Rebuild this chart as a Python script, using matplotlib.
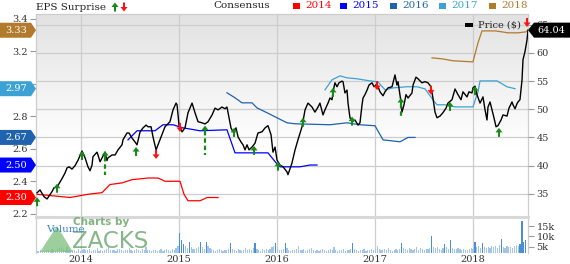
import numpy as np
import matplotlib
matplotlib.use("Agg")
import matplotlib.pyplot as plt
from matplotlib.colors import LinearSegmentedColormap
from matplotlib.patches import Polygon, Rectangle

# ---- data (dates as decimal years) ----
price_dates = [
    2013.557, 2013.587, 2013.628, 2013.659, 2013.709, 2013.730, 2013.760, 2013.811, 2013.842, 2013.862,
    2013.883, 2013.913, 2013.944, 2013.975, 2014.015, 2014.046, 2014.076, 2014.097, 2014.117, 2014.127,
    2014.168, 2014.178, 2014.199, 2014.229, 2014.250, 2014.270, 2014.280, 2014.321, 2014.352, 2014.382,
    2014.423, 2014.433, 2014.474, 2014.494, 2014.525, 2014.556, 2014.576, 2014.607, 2014.637, 2014.668,
    2014.688, 2014.719, 2014.739, 2014.770, 2014.810, 2014.861, 2014.912, 2014.943, 2014.974, 2014.984,
    2015.004, 2015.035, 2015.065, 2015.096, 2015.137, 2015.167, 2015.198, 2015.239, 2015.269, 2015.300,
    2015.341, 2015.371, 2015.402, 2015.442, 2015.473, 2015.493, 2015.514, 2015.534, 2015.555, 2015.585,
    2015.606, 2015.636, 2015.657, 2015.677, 2015.697, 2015.718, 2015.748, 2015.779, 2015.809, 2015.850,
    2015.881, 2015.911, 2015.942, 2015.962, 2015.983, 2016.003, 2016.034, 2016.064, 2016.105, 2016.115,
    2016.156, 2016.187, 2016.217, 2016.258, 2016.289, 2016.319, 2016.360, 2016.390, 2016.421, 2016.441,
    2016.472, 2016.492, 2016.523, 2016.543, 2016.564, 2016.574, 2016.594, 2016.615, 2016.635, 2016.666,
    2016.676, 2016.696, 2016.717, 2016.727, 2016.747, 2016.768, 2016.798, 2016.829, 2016.849, 2016.870,
    2016.880, 2016.900, 2016.921, 2016.941, 2016.972, 2016.992, 2017.023, 2017.053, 2017.084, 2017.104,
    2017.135, 2017.176, 2017.206, 2017.226, 2017.237, 2017.267, 2017.277, 2017.298, 2017.318, 2017.339,
    2017.379, 2017.390, 2017.420, 2017.441, 2017.481, 2017.512, 2017.542, 2017.573, 2017.593, 2017.614,
    2017.634, 2017.665, 2017.695, 2017.726, 2017.746, 2017.787, 2017.818, 2017.848, 2017.879, 2017.899,
    2017.940, 2017.960, 2017.991, 2018.001, 2018.022, 2018.042, 2018.073, 2018.103, 2018.124, 2018.144,
    2018.154, 2018.175, 2018.195, 2018.215, 2018.236, 2018.256, 2018.287, 2018.307, 2018.348, 2018.368,
    2018.399, 2018.409, 2018.430, 2018.450, 2018.460, 2018.480, 2018.501, 2018.511, 2018.531, 2018.552,
    2018.562]
price_vals = [
    35.2, 35.7, 34.5, 34.1, 35.4, 36.1, 36.2, 37.7, 38.7, 39.6,
    39.8, 39.4, 40.0, 41.0, 42.6, 41.4, 39.8, 39.1, 40.1, 41.6,
    42.4, 41.9, 40.7, 41.7, 42.4, 40.9, 41.4, 41.9, 41.9, 42.8,
    43.7, 44.6, 45.8, 45.8, 44.9, 44.2, 43.7, 46.0, 46.7, 47.2,
    46.9, 46.9, 45.1, 42.8, 44.6, 46.9, 47.8, 49.9, 51.1, 50.8,
    47.2, 46.0, 46.7, 49.4, 51.1, 49.4, 47.8, 47.6, 47.4, 47.8,
    49.0, 50.2, 49.9, 50.4, 50.1, 50.4, 48.5, 46.7, 46.0, 46.7,
    45.1, 44.2, 43.7, 42.8, 43.7, 42.8, 43.3, 44.0, 45.8, 46.0,
    46.7, 47.1, 45.5, 42.4, 43.3, 41.0, 40.1, 39.8, 38.9, 38.4,
    40.5, 42.8, 44.6, 46.9, 49.9, 51.1, 50.4, 49.5, 50.4, 51.1,
    49.0, 49.9, 51.1, 52.0, 51.7, 53.1, 54.7, 54.0, 54.7, 55.0,
    54.9, 52.9, 53.4, 51.1, 48.5, 47.8, 48.1, 47.2, 47.6, 50.8,
    52.0, 52.6, 53.4, 54.3, 54.7, 54.0, 54.5, 53.1, 52.4, 53.1,
    53.8, 54.0, 56.1, 54.3, 54.9, 51.3, 49.5, 50.8, 52.6, 52.0,
    52.9, 54.3, 55.7, 55.4, 54.7, 54.9, 54.7, 54.0, 52.0, 49.5,
    48.5, 48.8, 49.4, 50.2, 51.1, 51.7, 53.6, 52.6, 51.7, 53.1,
    52.2, 53.1, 52.9, 53.8, 54.1, 52.6, 51.1, 52.2, 49.9, 48.1,
    50.4, 51.3, 49.9, 48.5, 46.9, 47.1, 48.1, 49.0, 48.8, 50.2,
    51.3, 50.8, 50.1, 51.0, 51.3, 51.7, 55.2, 58.8, 60.2, 62.3,
    64.04]

# consensus EPS estimates per fiscal year
cons_2014_dates = [2013.557, 2013.893, 2014.076, 2014.219, 2014.301, 2014.423, 2014.525, 2014.688,
                   2014.790, 2014.861, 2015.014, 2015.055, 2015.096, 2015.218, 2015.290, 2015.402]
cons_2014 = [2.32, 2.30, 2.32, 2.33, 2.38, 2.39, 2.41, 2.42,
             2.42, 2.40, 2.40, 2.32, 2.28, 2.28, 2.30, 2.30]
cons_2015_dates = [2014.484, 2014.576, 2014.759, 2014.841, 2014.943, 2015.045, 2015.218, 2015.493,
                   2015.575, 2015.911, 2015.993, 2016.034, 2016.238, 2016.340, 2016.411]
cons_2015 = [2.655, 2.711, 2.711, 2.748, 2.748, 2.729, 2.711, 2.717,
             2.575, 2.575, 2.514, 2.489, 2.489, 2.50, 2.50]
cons_2016_dates = [2015.493, 2015.575, 2015.646, 2015.748, 2015.799, 2015.901, 2016.003, 2016.105,
                   2016.187, 2016.543, 2016.717, 2016.849, 2017.002, 2017.084, 2017.257, 2017.339,
                   2017.410]
cons_2016 = [2.945, 2.914, 2.883, 2.883, 2.852, 2.822, 2.791, 2.760,
             2.754, 2.748, 2.760, 2.748, 2.742, 2.655, 2.643, 2.67, 2.67]
cons_2017_dates = [2016.492, 2016.564, 2016.645, 2016.717, 2016.819, 2016.951, 2017.033, 2017.104,
                   2017.186, 2017.328, 2017.430, 2017.512, 2017.593, 2017.634, 2017.716, 2017.818,
                   2018.001, 2018.052, 2018.073, 2018.246, 2018.348, 2018.430]
cons_2017 = [2.963, 3.025, 3.049, 3.037, 3.031, 3.018, 3.012, 2.963,
             2.975, 2.982, 2.982, 2.969, 2.902, 2.871, 2.871, 2.858,
             2.858, 2.951, 3.018, 3.018, 2.982, 2.97]
cons_2018_dates = [2017.583, 2017.685, 2017.797, 2018.001, 2018.052, 2018.093, 2018.226, 2018.297,
                   2018.358, 2018.460, 2018.542, 2018.562]
cons_2018 = [3.160, 3.154, 3.142, 3.135, 3.252, 3.326, 3.326, 3.320,
             3.314, 3.314, 3.320, 3.33]

# EPS surprise arrows
surprise_dates = [2013.557, 2013.760, 2014.015, 2014.250, 2014.566, 2014.770, 2015.014, 2015.269,
                  2015.565, 2015.769, 2016.013, 2016.268, 2016.574, 2016.768, 2017.023, 2017.267,
                  2017.573, 2017.767, 2018.022, 2018.266, 2018.552]
surprise_price = [34.4, 36.8, 42.6, 42.6, 43.3, 41.2, 46.0, 47.1,
                  46.7, 43.5, 40.7, 48.5, 53.8, 48.7, 53.4, 52.0,
                  52.6, 51.3, 54.1, 46.7, 64.6]
surprise_dir = ["up", "up", "up", "up", "up", "down", "down", "up",
                "up", "up", "up", "up", "up", "up", "down", "up",
                "down", "up", "up", "up", "down"]
surprise_tail = [None, None, None, 38.4, None, None, None, 41.9,
                 None, None, None, None, None, None, None, 48.7,
                 None, None, None, None, None]

# weekly volume, thousands
volume_k = [
    3.2, 3.0, 3.4, 2.9, 3.1, 3.6, 3.3, 3.0, 3.8, 3.5, 3.2, 3.9, 4.6, 5.0, 4.2, 3.6, 4.8, 3.4, 3.1, 3.3,
    3.5, 3.0, 3.8, 3.2, 3.6, 4.1, 3.4, 3.3, 3.9, 3.1, 3.7, 3.5, 4.4, 3.2, 3.6, 3.0, 3.4, 3.9, 5.2, 3.5,
    3.3, 3.6, 3.1, 3.8, 4.0, 3.4, 3.2, 3.7, 3.5, 4.3, 3.3, 3.1, 3.6, 3.9, 3.4, 3.2, 3.8, 3.5, 4.8, 3.6,
    3.4, 3.1, 3.7, 3.3, 3.0, 3.5, 3.9, 3.2, 3.6, 4.2, 3.4, 3.1, 3.8, 3.5, 4.5, 5.6, 11.7, 8.3, 6.5, 5.4,
    4.6, 7.4, 5.0, 4.2, 3.8, 4.5, 5.2, 7.4, 4.8, 4.1, 7.4, 5.6, 4.3, 3.9, 3.5, 3.2, 3.6, 4.0, 3.4, 3.1,
    3.7, 3.3, 4.2, 6.9, 4.1, 3.5, 3.2, 3.8, 3.4, 3.0, 3.6, 4.4, 3.3, 3.9, 3.5, 4.6, 6.9, 4.0, 3.6, 3.2,
    3.8, 3.4, 4.1, 3.5, 3.9, 4.8, 5.3, 6.9, 4.2, 3.6, 3.3, 4.0, 6.9, 4.4, 3.5, 3.2, 3.7, 3.4, 3.9, 5.5,
    3.6, 3.3, 3.8, 3.1, 3.5, 3.9, 4.3, 3.4, 3.0, 3.6, 3.2, 3.7, 4.1, 3.3, 3.0, 3.5, 3.8, 3.4, 5.0, 3.6,
    3.2, 3.7, 3.4, 3.9, 3.1, 3.6, 3.3, 4.2, 6.9, 3.8, 3.4, 3.0, 3.7, 3.5, 4.0, 3.2, 3.6, 3.3, 3.9, 3.5,
    3.8, 5.5, 4.1, 3.6, 3.3, 3.9, 3.4, 4.4, 3.7, 3.2, 3.6, 4.0, 3.5, 3.9, 6.9, 4.3, 3.8, 3.4, 4.6, 3.9,
    3.6, 4.2, 5.0, 3.7, 4.4, 3.9, 3.5, 4.1, 3.8, 4.6, 10.2, 4.8, 4.3, 5.2, 4.0, 3.7, 4.5, 6.4, 4.9, 4.1,
    8.3, 4.6, 4.2, 3.8, 4.4, 3.9, 3.6, 4.1, 3.7, 3.5, 3.9, 4.3, 4.0, 7.4, 4.8, 5.6, 4.5, 6.9, 5.2, 4.7,
    5.0, 4.4, 5.6, 4.8, 5.3, 4.6, 5.8, 8.8, 5.1, 4.7, 5.4, 4.9, 5.2, 4.6, 5.5, 6.0, 5.3, 6.2, 17.4, 7.4,
    8.3]
volume_start = 2013.556

years = [2014, 2015, 2016, 2017, 2018]
series = [
    ("2014", cons_2014_dates, cons_2014, "#ff0000"),
    ("2015", cons_2015_dates, cons_2015, "#0000ff"),
    ("2016", cons_2016_dates, cons_2016, "#1f62ad"),
    ("2017", cons_2017_dates, cons_2017, "#3ca2d3"),
    ("2018", cons_2018_dates, cons_2018, "#b27a2c"),
]

plt.rcParams["font.family"] = ["DejaVu Serif"]
W, H = 570, 264
GREEN = "#168a16"
RED = "#ff1010"
GRID = "#cdcdcd"


def fx(px):
    return px / W


def fy(py):
    return 1 - py / H


fig = plt.figure(figsize=(W / 100, H / 100), dpi=100)
L, R, T, B1, B2 = 36, 528, 14, 217, 253
ax_eps = fig.add_axes([fx(L), fy(B1), (R - L) / W, (B1 - T) / H])
ax_vol = fig.add_axes([fx(L), fy(B2), (R - L) / W, (B2 - B1) / H], sharex=ax_eps)
ax_price = ax_eps.twinx()

xlim = (2013.546, 2018.562)
eps_lim = (2.18, 3.43)
price_lim = (30.9, 66.9)

# background gradient
frac = np.linspace(1, 0, 256).reshape(-1, 1)
shade = np.clip((frac - 0.35) / 0.65, 0, 1)
cmap = LinearSegmentedColormap.from_list("bg", ["#ffffff", "#e2e2e2"])
ax_eps.imshow(shade, extent=(0, 1, 0, 1), transform=ax_eps.transAxes, cmap=cmap,
              vmin=0, vmax=1, aspect="auto", zorder=0, interpolation="bilinear")

# grid
price_ticks = [35, 40, 45, 50, 55, 60, 65]
for p in price_ticks:
    e = eps_lim[0] + (p - price_lim[0]) / (price_lim[1] - price_lim[0]) * (eps_lim[1] - eps_lim[0])
    ax_eps.axhline(e, color=GRID, lw=0.9, zorder=1)
for yr in years:
    ax_eps.axvline(yr, color=GRID, lw=0.9, zorder=1)
    ax_vol.axvline(yr, color=GRID, lw=0.9, zorder=0)

# consensus lines
for name, d, v, c in series:
    ax_eps.plot(d, v, color=c, lw=0.9, zorder=3)

ax_eps.set_xlim(*xlim)
ax_eps.set_ylim(*eps_lim)
eps_ticks = [2.2, 2.4, 2.6, 2.8, 3.0, 3.2, 3.4]
ax_eps.set_yticks(eps_ticks)
# 3.0 sits under the 2.97 tag in the original, so leave it blank
ax_eps.set_yticklabels(["" if t == 3.0 else f"{t:.1f}" for t in eps_ticks])
ax_eps.tick_params(axis="y", labelsize=7, colors="#333333", length=4, pad=2, width=0.8)
ax_eps.tick_params(axis="y", color="#999999")
ax_eps.tick_params(axis="x", length=0, labelbottom=False)
for s in ax_eps.spines.values():
    s.set_color(GRID)
    s.set_linewidth(0.9)

# price line
ax_price.plot(price_dates, price_vals, color="black", lw=1.0, zorder=4)
ax_price.set_ylim(*price_lim)
ax_price.set_yticks(price_ticks)
ax_price.tick_params(axis="y", labelsize=7, colors="#333333", length=4, pad=2, width=0.8)
ax_price.tick_params(axis="y", color="#999999")
for s in ax_price.spines.values():
    s.set_visible(False)

# dashed tails of surprise arrows
for d, p, t in zip(surprise_dates, surprise_price, surprise_tail):
    if t is not None:
        ax_price.plot([d, d], [p - 1.0, t], color=GREEN, lw=1.6, ls=(0, (2, 1.3)), zorder=5)

# volume
vol = np.array(volume_k)
vol_dates = volume_start + np.arange(len(vol)) / 52.18
ax_vol.bar(vol_dates, vol - 2.1, bottom=2.1, width=0.012,
           color=np.where(vol > 6, "#4a8fd4", "#a3c5ea"), zorder=2)
ax_vol.set_ylim(2.1, 19.3)
ax_vol.yaxis.tick_right()
ax_vol.set_yticks([5, 10, 15])
ax_vol.set_yticklabels(["5k", "10k", "15k"])
ax_vol.tick_params(axis="y", labelsize=7, colors="#333333", length=4, pad=2, width=0.8)
ax_vol.tick_params(axis="y", color="#999999")
ax_vol.set_xticks(years)
ax_vol.set_xticklabels([str(y) for y in years])
ax_vol.tick_params(axis="x", labelsize=7, colors="#333333", length=0, pad=1.5)
ax_vol.set_xlim(*xlim)
ax_vol.spines["top"].set_color("#d8d8d8")
ax_vol.spines["top"].set_linewidth(2.2)
ax_vol.spines["bottom"].set_visible(False)
for k in ("left", "right"):
    ax_vol.spines[k].set_color(GRID)
    ax_vol.spines[k].set_linewidth(0.9)


def to_px(ax, x, y):
    dx, dy = ax.transData.transform((x, y))
    return dx, H - dy


def arrow(xp, yp, up, color, z=6):
    # tip at (xp, yp) in pixels from top-left
    s = 1 if up else -1
    pts = [(xp, yp), (xp + 3.5, yp + s * 4.5), (xp + 1, yp + s * 4.5), (xp + 1, yp + s * 9),
           (xp - 1, yp + s * 9), (xp - 1, yp + s * 4.5), (xp - 3.5, yp + s * 4.5)]
    fig.patches.append(Polygon([(fx(a), fy(b)) for a, b in pts], closed=True,
                               transform=fig.transFigure, color=color, lw=0, zorder=z))


for d, p, dr in zip(surprise_dates, surprise_price, surprise_dir):
    xp, yp = to_px(ax_price, d, p)
    arrow(xp, yp, dr == "up", GREEN if dr == "up" else RED)

# left consensus value tags
for name, d, v, c in series:
    _, py = to_px(ax_eps, xlim[0], v[-1])
    pts = [(0, py - 7.5), (31, py - 7.5), (36, py), (31, py + 7.5), (0, py + 7.5)]
    fig.patches.append(Polygon([(fx(a), fy(b)) for a, b in pts], closed=True,
                               transform=fig.transFigure, color=c, lw=0, zorder=8))
    fig.text(fx(16), fy(py), f"{v[-1]:.2f}", color="white", fontsize=7,
             ha="center", va="center", zorder=9)

# last price tag
_, py = to_px(ax_price, xlim[1], price_vals[-1])
pts = [(528, py), (534, py - 7.5), (570, py - 7.5), (570, py + 7.5), (534, py + 7.5)]
fig.patches.append(Polygon([(fx(a), fy(b)) for a, b in pts], closed=True,
                           transform=fig.transFigure, color="black", lw=0, zorder=8))
fig.text(fx(551), fy(py), f"{price_vals[-1]:.2f}", color="white", fontsize=7,
         ha="center", va="center", zorder=9)

# header legend
fig.text(fx(36), fy(7), "EPS Surprise", fontsize=7.5, color="#222222", va="center")
arrow(115, 2.5, True, GREEN)
arrow(124, 11.5, False, RED)
fig.text(fx(213), fy(6), "Consensus", fontsize=7.5, color="#222222", va="center")
for (name, d, v, c), sx in zip(series, [293, 340, 390, 439, 489]):
    fig.patches.append(Rectangle((fx(sx), fy(9)), 7 / W, 6 / H, transform=fig.transFigure,
                                 color=c, lw=0))
    fig.text(fx(sx + 12), fy(6), name, fontsize=7.5, color=c, va="center")

# price legend inside plot
fig.patches.append(Rectangle((fx(465), fy(27)), 8 / W, 4 / H, transform=fig.transFigure,
                             color="black", lw=0, zorder=7))
fig.text(fx(478), fy(25), "Price ($)", fontsize=7, color="#222222", va="center", zorder=7)

# watermark
fig.patches.append(Polygon([(fx(40), fy(252)), (fx(57), fy(226)), (fx(73), fy(252))],
                           closed=True, transform=fig.transFigure, color="#7cbf7c",
                           alpha=0.75, lw=0, zorder=6))
fig.text(fx(73), fy(222), "Charts by", fontsize=7.5, color="#6aa86a", va="center",
         family="DejaVu Sans", weight="bold", alpha=0.85, zorder=6)
fig.text(fx(72), fy(242), "ZACKS", fontsize=16.5, color="#5d9e63", va="center",
         family="DejaVu Sans", alpha=0.75, zorder=6)
fig.text(fx(46), fy(229), "Volume", fontsize=7.5, color="#3d85c6", va="center", zorder=7)

fig.savefig("out.png", dpi=100)
